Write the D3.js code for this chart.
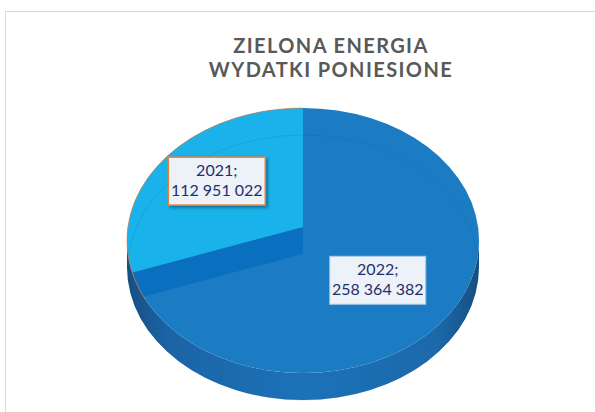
<!DOCTYPE html>
<html>
<head>
<meta charset="utf-8">
<script src="https://cdn.jsdelivr.net/npm/d3@7"></script>
<style>
  html, body { margin: 0; padding: 0; background: #fff; }
  svg { display: block; }
</style>
</head>
<body>
<svg width="595" height="412"></svg>
<script>
var titleLines = ["ZIELONA ENERGIA", "WYDATKI PONIESIONE"];
var categories = ["2021", "2022"];
var values = [112951022, 258364382];

var topColors = ["#19b2ea", "#1b7cc4"];
var labelBorder = ["#ed7d31", "#a9c6e8"];

var svg = d3.select("svg"),
    width = +svg.attr("width"),
    height = +svg.attr("height");

// pie geometry (projected ellipse)
var cx = 303, cy = 240.5, rx = 176, ry = 132.5, depth = 27;

var pl = d3.formatLocale({decimal: ",", thousands: " ", grouping: [3], currency: ["", ""]});
var fmt = pl.format(",d");

var defs = svg.append("defs");

var side = defs.append("linearGradient").attr("id", "side")
    .attr("x1", "0").attr("x2", "1").attr("y1", "0").attr("y2", "0");
side.append("stop").attr("offset", "0%").attr("stop-color", "#174f84");
side.append("stop").attr("offset", "12%").attr("stop-color", "#1b64a6");
side.append("stop").attr("offset", "50%").attr("stop-color", "#1c72b8");
side.append("stop").attr("offset", "88%").attr("stop-color", "#1b69ab");
side.append("stop").attr("offset", "100%").attr("stop-color", "#174f80");

defs.append("clipPath").attr("id", "topClip")
  .append("ellipse").attr("cx", cx).attr("cy", cy).attr("rx", rx).attr("ry", ry);

var sh = defs.append("filter").attr("id", "shadow")
    .attr("x", "-20%").attr("y", "-20%").attr("width", "150%").attr("height", "160%");
sh.append("feDropShadow").attr("dx", 2).attr("dy", 2).attr("stdDeviation", 1.5)
    .attr("flood-color", "#000").attr("flood-opacity", 0.35);

// frame
svg.append("rect")
    .attr("x", 5.5).attr("y", 11.5)
    .attr("width", width + 10).attr("height", height + 10)
    .attr("fill", "none").attr("stroke", "#d9d9d9");

// title
svg.append("text")
    .attr("x", 331).attr("y", 53)
    .attr("text-anchor", "middle")
    .attr("font-family", "Lato, 'Open Sans', sans-serif")
    .attr("font-weight", "bold")
    .attr("font-size", 20)
    .attr("letter-spacing", 1.4)
    .attr("fill", "#595959")
  .selectAll("tspan")
  .data(titleLines)
  .enter().append("tspan")
    .attr("x", 331)
    .attr("dy", function(d, i) { return i ? 24 : 0; })
    .text(function(d) { return d; });

// angles: 2022 starts at 12 o'clock clockwise, 2021 fills the rest
var arcs = d3.pie().sort(null)(values);
var shift = arcs[0].endAngle;
arcs.forEach(function(a) { a.startAngle -= shift; a.endAngle -= shift; });

function pt(a, r, oy) {
  return [cx + rx * r * Math.sin(a), cy + (oy || 0) - ry * r * Math.cos(a)];
}

var g = svg.append("g");

// side wall
g.append("path")
    .attr("d", "M" + (cx - rx) + "," + cy +
      " L" + (cx - rx) + "," + (cy + depth) +
      " A" + rx + "," + ry + " 0 0 0 " + (cx + rx) + "," + (cy + depth) +
      " L" + (cx + rx) + "," + cy +
      " A" + rx + "," + ry + " 0 0 1 " + (cx - rx) + "," + cy + " Z")
    .attr("fill", "url(#side)");

// top face (2022)
g.append("ellipse")
    .attr("cx", cx).attr("cy", cy).attr("rx", rx).attr("ry", ry)
    .attr("fill", topColors[1]);

var faces = g.append("g").attr("clip-path", "url(#topClip)");

// cut wall of the 2021 slice
var a21 = arcs[0];
var lift = -depth / 2;
var far = 3;
var wall = [
  [cx, cy + lift],
  pt(a21.startAngle, far, lift),
  pt(a21.startAngle, far, -lift),
  [cx, cy - lift]
];
faces.append("path")
    .attr("d", "M" + wall.join("L") + "Z")
    .attr("fill", "#0a6fbf");

// 2021 top face, raised apex
var wedge = [[cx, cy + lift]];
d3.range(0, 41).forEach(function(i) {
  var a = a21.startAngle + (a21.endAngle - a21.startAngle) * i / 40;
  wedge.push(pt(a, far, lift));
});
faces.append("path")
    .attr("d", "M" + wedge.join("L") + "Z")
    .attr("fill", topColors[0]);

// faint back edge of the bottom rim
g.append("ellipse")
    .attr("cx", cx).attr("cy", cy + depth).attr("rx", rx - 1).attr("ry", ry)
    .attr("fill", "none")
    .attr("stroke", "#0b4f8a").attr("stroke-opacity", 0.15);

// orange edge of the 2021 slice rim
var rimPts = d3.range(0, 41).map(function(i) {
  var a = a21.startAngle - 0.12 + (a21.endAngle - a21.startAngle + 0.12) * i / 40;
  return pt(a, 1, 0);
});
g.append("path")
    .attr("d", "M" + rimPts.join("L"))
    .attr("fill", "none")
    .attr("stroke", "#ed7d31").attr("stroke-opacity", 0.6).attr("stroke-width", 1);

// data labels
var labelRadius = [0.6, 0.52];
var labelLift = [lift, 0];
var boxW = [97, 96], boxH = 48;

arcs.forEach(function(a, i) {
  var mid = (a.startAngle + a.endAngle) / 2;
  var p = pt(mid, labelRadius[i], labelLift[i]);
  var lg = svg.append("g").attr("transform", "translate(" + p[0] + "," + p[1] + ")");
  lg.append("rect")
      .attr("x", -boxW[i] / 2).attr("y", -boxH / 2)
      .attr("width", boxW[i]).attr("height", boxH)
      .attr("fill", "#edf2f8")
      .attr("stroke", labelBorder[i])
      .attr("stroke-width", i ? 1 : 1.5)
      .attr("filter", i ? null : "url(#shadow)");
  lg.append("text")
      .attr("text-anchor", "middle")
      .attr("font-family", "Lato, 'Open Sans', sans-serif")
      .attr("font-size", 16)
      .attr("fill", "#1f2f6e")
    .selectAll("tspan")
    .data([categories[i] + ";", fmt(values[i])])
    .enter().append("tspan")
      .attr("x", 0)
      .attr("y", function(d, j) { return j ? 15 : -5; })
      .text(function(d) { return d; });
});
</script>
</body>
</html>
